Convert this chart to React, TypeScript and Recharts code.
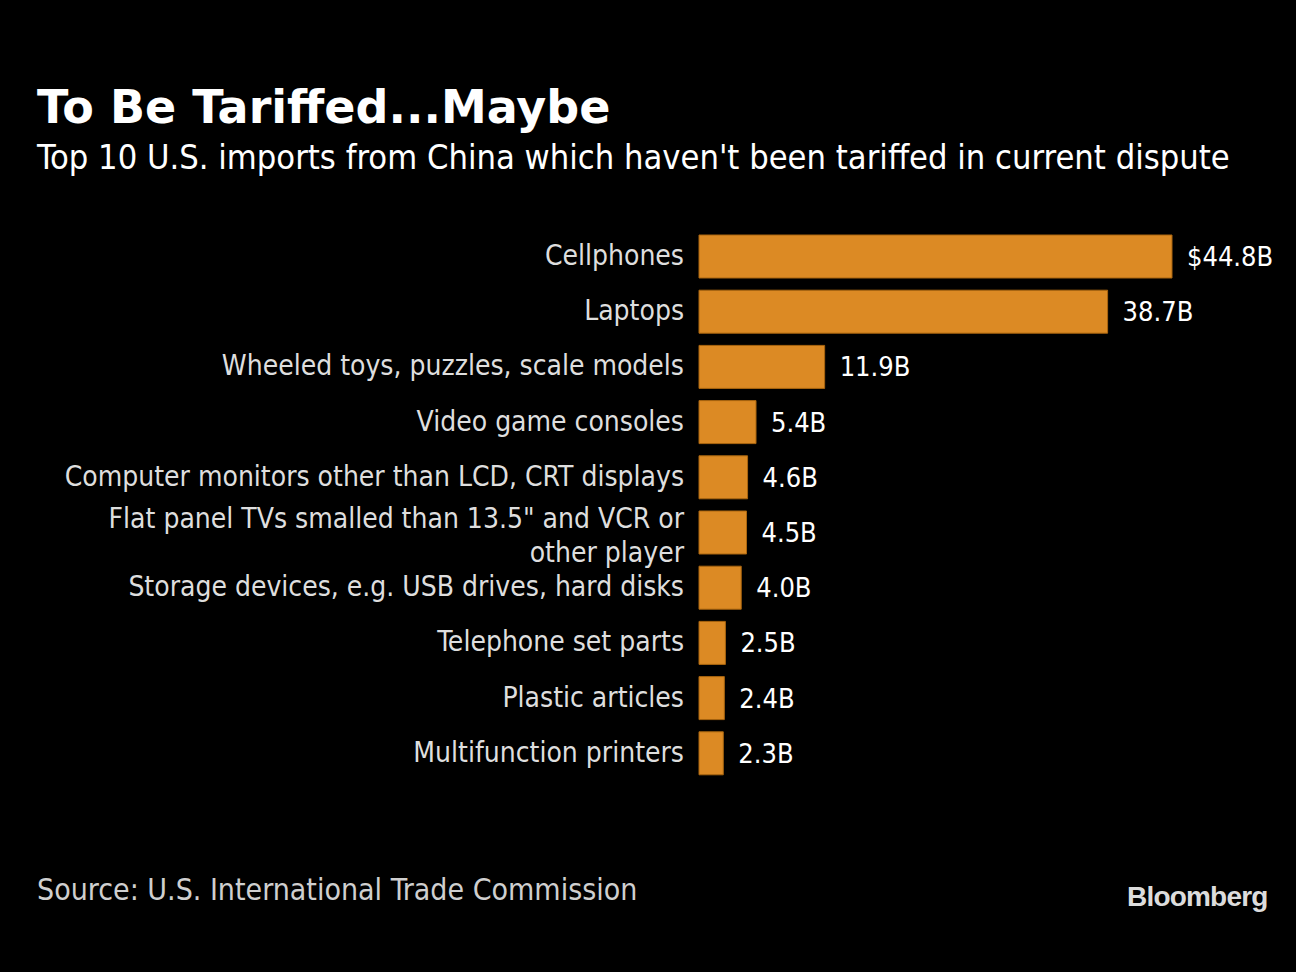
import React from 'react';
import { BarChart, Bar, XAxis, YAxis, LabelList } from 'recharts';

const categories = [
  'Cellphones',
  'Laptops',
  'Wheeled toys, puzzles, scale models',
  'Video game consoles',
  'Computer monitors other than LCD, CRT displays',
  'Flat panel TVs smalled than 13.5" and VCR or\nother player',
  'Storage devices, e.g. USB drives, hard disks',
  'Telephone set parts',
  'Plastic articles',
  'Multifunction printers',
];
const values = [44.8, 38.7, 11.9, 5.4, 4.6, 4.5, 4.0, 2.5, 2.4, 2.3];

const data = categories.map((name, i) => ({ name, value: values[i] }));

const FONT = '"DejaVu Sans Condensed", "DejaVu Sans", sans-serif';

const Tick = (props: any) => {
  const { x, y, payload } = props;
  const lines: string[] = String(payload.value).split('\n');
  const lh = 34;
  const start = y - ((lines.length - 1) * lh) / 2 + (lines.length > 1 ? 4 : 0);
  return (
    <text x={x} y={start} textAnchor="end" fill="#dedede" fontSize={28} fontFamily={FONT}>
      {lines.map((l, i) => (
        <tspan key={i} x={x} y={start + i * lh} dy="0.3em">
          {l}
        </tspan>
      ))}
    </text>
  );
};

export default function App() {
  return (
    <div
      style={{
        position: 'absolute',
        left: 0,
        top: 0,
        width: 1296,
        height: 972,
        background: '#000',
        overflow: 'hidden',
        fontFamily: FONT,
      }}
    >
      <div
        style={{
          position: 'absolute',
          left: 37,
          top: 77,
          fontSize: 46,
          fontWeight: 'bold',
          fontFamily: '"DejaVu Sans", sans-serif',
          color: '#fff',
          whiteSpace: 'nowrap',
          lineHeight: '60px',
        }}
      >
        To Be Tariffed...Maybe
      </div>
      <div
        style={{
          position: 'absolute',
          left: 37,
          top: 137,
          fontSize: 34.2,
          color: '#fff',
          whiteSpace: 'nowrap',
          lineHeight: '40px',
        }}
      >
        Top 10 U.S. imports from China which haven't been tariffed in current dispute
      </div>
      <div style={{ position: 'absolute', left: 0, top: 0 }}>
        <BarChart
          width={1296}
          height={972}
          data={data}
          layout="vertical"
          margin={{ top: 229, right: 124, bottom: 191, left: 0 }}
        >
          <XAxis type="number" domain={[0, 44.8]} hide />
          <YAxis
            type="category"
            dataKey="name"
            width={699}
            axisLine={false}
            tickLine={false}
            tickSize={0}
            tickMargin={15}
            tick={<Tick />}
            interval={0}
          />
          <Bar
            dataKey="value"
            fill="#dc8a24"
            stroke="#a9650f"
            strokeWidth={1}
            barSize={43}
            isAnimationActive={false}
          >
            <LabelList
              dataKey="value"
              position="right"
              offset={15}
              fill="#fff"
              fontSize={27}
              fontFamily={FONT}
              formatter={(v: any) =>
                v === values[0] ? `$${Number(v).toFixed(1)}B` : `${Number(v).toFixed(1)}B`
              }
            />
          </Bar>
        </BarChart>
      </div>
      <div
        style={{
          position: 'absolute',
          left: 37,
          top: 872,
          fontSize: 30,
          color: '#cfcfcf',
          whiteSpace: 'nowrap',
          lineHeight: '36px',
        }}
      >
        Source: U.S. International Trade Commission
      </div>
      <div
        style={{
          position: 'absolute',
          left: 1127,
          top: 880,
          fontSize: 28,
          fontWeight: 'bold',
          fontFamily: '"Liberation Sans", Arial, sans-serif',
          color: '#dcdcdc',
          letterSpacing: '-0.8px',
          whiteSpace: 'nowrap',
          lineHeight: '34px',
        }}
      >
        Bloomberg
      </div>
    </div>
  );
}
